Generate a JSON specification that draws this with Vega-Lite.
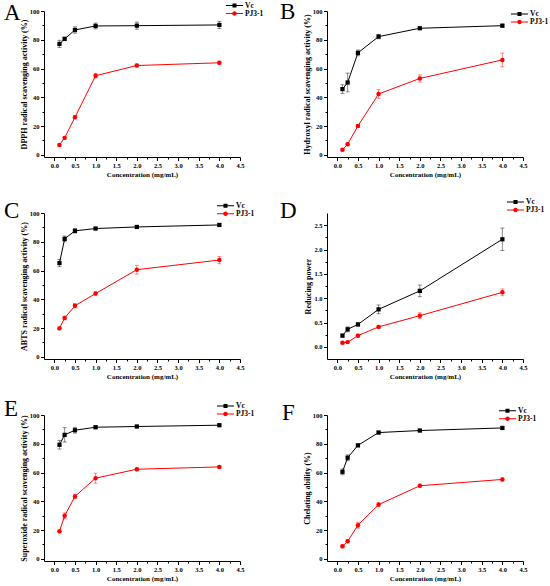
{
  "$schema": "https://vega.github.io/schema/vega-lite/v6.json",
  "background": "white",
  "padding": {"left": 4, "top": 1, "right": 0, "bottom": 0},
  "data": {
    "values": [
      {"p": "A", "s": "Vc", "x": 0.125, "v": 77.1, "e": 2.5},
      {"p": "A", "s": "Vc", "x": 0.25, "v": 80.6, "e": 1.2},
      {"p": "A", "s": "Vc", "x": 0.5, "v": 86.8, "e": 2.2},
      {"p": "A", "s": "Vc", "x": 1, "v": 89.6, "e": 2},
      {"p": "A", "s": "Vc", "x": 2, "v": 89.8, "e": 2.5},
      {"p": "A", "s": "Vc", "x": 4, "v": 90.3, "e": 2.5},
      {"p": "A", "s": "PJ3-1", "x": 0.125, "v": 6.9, "e": 1},
      {"p": "A", "s": "PJ3-1", "x": 0.25, "v": 11.8, "e": 1},
      {"p": "A", "s": "PJ3-1", "x": 0.5, "v": 26.1, "e": 1},
      {"p": "A", "s": "PJ3-1", "x": 1, "v": 55, "e": 1.5},
      {"p": "A", "s": "PJ3-1", "x": 2, "v": 62.1, "e": 1},
      {"p": "A", "s": "PJ3-1", "x": 4, "v": 64, "e": 1},
      {"p": "B", "s": "Vc", "x": 0.125, "v": 45.7, "e": 3},
      {"p": "B", "s": "Vc", "x": 0.25, "v": 50.3, "e": 6.5},
      {"p": "B", "s": "Vc", "x": 0.5, "v": 70.9, "e": 2},
      {"p": "B", "s": "Vc", "x": 1, "v": 82.2, "e": 1.5},
      {"p": "B", "s": "Vc", "x": 2, "v": 88, "e": 0.8},
      {"p": "B", "s": "Vc", "x": 4, "v": 89.8, "e": 1},
      {"p": "B", "s": "PJ3-1", "x": 0.125, "v": 3.5, "e": 0.8},
      {"p": "B", "s": "PJ3-1", "x": 0.25, "v": 7.4, "e": 1},
      {"p": "B", "s": "PJ3-1", "x": 0.5, "v": 20.1, "e": 1},
      {"p": "B", "s": "PJ3-1", "x": 1, "v": 42.3, "e": 3},
      {"p": "B", "s": "PJ3-1", "x": 2, "v": 53.1, "e": 2.5},
      {"p": "B", "s": "PJ3-1", "x": 4, "v": 66, "e": 4.8},
      {"p": "C", "s": "Vc", "x": 0.125, "v": 65.2, "e": 2.5},
      {"p": "C", "s": "Vc", "x": 0.25, "v": 82, "e": 2},
      {"p": "C", "s": "Vc", "x": 0.5, "v": 87.6, "e": 1.5},
      {"p": "C", "s": "Vc", "x": 1, "v": 89.2, "e": 0.8},
      {"p": "C", "s": "Vc", "x": 2, "v": 90.3, "e": 0.8},
      {"p": "C", "s": "Vc", "x": 4, "v": 91.7, "e": 0.8},
      {"p": "C", "s": "PJ3-1", "x": 0.125, "v": 19.8, "e": 1},
      {"p": "C", "s": "PJ3-1", "x": 0.25, "v": 27, "e": 1.2},
      {"p": "C", "s": "PJ3-1", "x": 0.5, "v": 35.5, "e": 1.5},
      {"p": "C", "s": "PJ3-1", "x": 1, "v": 44, "e": 1.2},
      {"p": "C", "s": "PJ3-1", "x": 2, "v": 60.6, "e": 3},
      {"p": "C", "s": "PJ3-1", "x": 4, "v": 67.3, "e": 2.5},
      {"p": "D", "s": "Vc", "x": 0.125, "v": 0.23, "e": 0.03},
      {"p": "D", "s": "Vc", "x": 0.25, "v": 0.36, "e": 0.05},
      {"p": "D", "s": "Vc", "x": 0.5, "v": 0.46, "e": 0.03},
      {"p": "D", "s": "Vc", "x": 1, "v": 0.77, "e": 0.09},
      {"p": "D", "s": "Vc", "x": 2, "v": 1.15, "e": 0.12},
      {"p": "D", "s": "Vc", "x": 4, "v": 2.21, "e": 0.23},
      {"p": "D", "s": "PJ3-1", "x": 0.125, "v": 0.083, "e": 0.02},
      {"p": "D", "s": "PJ3-1", "x": 0.25, "v": 0.097, "e": 0.02},
      {"p": "D", "s": "PJ3-1", "x": 0.5, "v": 0.23, "e": 0.03},
      {"p": "D", "s": "PJ3-1", "x": 1, "v": 0.41, "e": 0.03},
      {"p": "D", "s": "PJ3-1", "x": 2, "v": 0.64, "e": 0.06},
      {"p": "D", "s": "PJ3-1", "x": 4, "v": 1.12, "e": 0.07},
      {"p": "E", "s": "Vc", "x": 0.125, "v": 79.3, "e": 3},
      {"p": "E", "s": "Vc", "x": 0.25, "v": 86.2, "e": 5},
      {"p": "E", "s": "Vc", "x": 0.5, "v": 89.4, "e": 2},
      {"p": "E", "s": "Vc", "x": 1, "v": 91.5, "e": 1},
      {"p": "E", "s": "Vc", "x": 2, "v": 92, "e": 0.8},
      {"p": "E", "s": "Vc", "x": 4, "v": 92.9, "e": 0.8},
      {"p": "E", "s": "PJ3-1", "x": 0.125, "v": 19.1, "e": 1},
      {"p": "E", "s": "PJ3-1", "x": 0.25, "v": 29.9, "e": 2},
      {"p": "E", "s": "PJ3-1", "x": 0.5, "v": 43.4, "e": 1.5},
      {"p": "E", "s": "PJ3-1", "x": 1, "v": 56.1, "e": 3.5},
      {"p": "E", "s": "PJ3-1", "x": 2, "v": 62.3, "e": 1},
      {"p": "E", "s": "PJ3-1", "x": 4, "v": 63.9, "e": 1},
      {"p": "F", "s": "Vc", "x": 0.125, "v": 60.5, "e": 2},
      {"p": "F", "s": "Vc", "x": 0.25, "v": 70.3, "e": 2},
      {"p": "F", "s": "Vc", "x": 0.5, "v": 78.9, "e": 1},
      {"p": "F", "s": "Vc", "x": 1, "v": 87.8, "e": 1},
      {"p": "F", "s": "Vc", "x": 2, "v": 89.2, "e": 0.8},
      {"p": "F", "s": "Vc", "x": 4, "v": 91, "e": 1},
      {"p": "F", "s": "PJ3-1", "x": 0.125, "v": 8.7, "e": 1},
      {"p": "F", "s": "PJ3-1", "x": 0.25, "v": 12.2, "e": 1},
      {"p": "F", "s": "PJ3-1", "x": 0.5, "v": 23.4, "e": 2},
      {"p": "F", "s": "PJ3-1", "x": 1, "v": 37.7, "e": 1.5},
      {"p": "F", "s": "PJ3-1", "x": 2, "v": 50.8, "e": 1},
      {"p": "F", "s": "PJ3-1", "x": 4, "v": 55.2, "e": 1}
    ]
  },
  "columns": 2,
  "spacing": {"row": 56, "column": 87},
  "bounds": "flush",
  "resolve": {"scale": {"color": "independent"}},
  "concat": [
    {
      "width": 196, "height": 146,
      "title": {"text": "A", "dx": -40, "dy": 28.4},
      "transform": [{"filter": "datum.p === 'A'"}],
      "encoding": {
        "x": {"field": "x", "type": "quantitative", "scale": {"domain": [-0.25, 4.5], "nice": false, "zero": false},
          "axis": {"title": "Concentration (mg/mL)", "values": [0, 0.25, 0.5, 0.75, 1, 1.25, 1.5, 1.75, 2, 2.25, 2.5, 2.75, 3, 3.25, 3.5, 3.75, 4, 4.25, 4.5], "labelExpr": "datum.value % 0.5 === 0 ? format(datum.value, '.1f') : ''", "tickSize": {"condition": {"test": "datum.value % 0.5 === 0", "value": 3.5}, "value": 2}}},
        "y": {"field": "v", "type": "quantitative", "scale": {"domain": [-1.5, 100], "nice": false, "zero": false},
          "axis": {"title": "DPPH radical scavenging activity (%)", "values": [0, 10, 20, 30, 40, 50, 60, 70, 80, 90, 100], "labelExpr": "datum.value % 20 === 0 ? datum.label : ''", "tickSize": {"condition": {"test": "datum.value % 20 === 0", "value": 3.5}, "value": 2}}},
        "color": {"field": "s", "type": "nominal", "scale": {"domain": ["Vc", "PJ3-1"], "range": ["#000000", "#ff0000"]},
          "legend": {"title": null, "legendX": 186, "legendY": -10,
            "encode": {"symbols": {"update": {
              "shape": {"signal": "datum.value === 'Vc' ? 'M-1.9,-0.11H1.9V0.11H-1.9Z M-0.45,-0.45H0.45V0.45H-0.45Z' : 'M-1.9,-0.11H1.9V0.11H-1.9Z M0.5,0A0.5,0.5 0 1,1 -0.5,0A0.5,0.5 0 1,1 0.5,0Z'"},
              "fill": {"signal": "datum.value === 'Vc' ? '#000000' : '#ff0000'"},
              "opacity": {"value": 1}}}}}}
      },
      "layer": [
        {"mark": {"type": "errorbar", "ticks": {"size": 4}, "opacity": 0.45}, "encoding": {"yError": {"field": "e"}}},
        {"mark": {"type": "line", "strokeWidth": 1}},
        {"transform": [{"filter": "datum.s === 'Vc'"}], "mark": {"type": "point", "shape": "square", "filled": true, "size": 18, "opacity": 1}},
        {"transform": [{"filter": "datum.s === 'PJ3-1'"}], "mark": {"type": "point", "shape": "circle", "filled": true, "size": 20, "opacity": 1}}
      ]
    },
    {
      "width": 196, "height": 146,
      "title": {"text": "B", "dx": -47, "dy": 20.4},
      "transform": [{"filter": "datum.p === 'B'"}],
      "encoding": {
        "x": {"field": "x", "type": "quantitative", "scale": {"domain": [-0.25, 4.5], "nice": false, "zero": false},
          "axis": {"title": "Concentration (mg/mL)", "values": [0, 0.25, 0.5, 0.75, 1, 1.25, 1.5, 1.75, 2, 2.25, 2.5, 2.75, 3, 3.25, 3.5, 3.75, 4, 4.25, 4.5], "labelExpr": "datum.value % 0.5 === 0 ? format(datum.value, '.1f') : ''", "tickSize": {"condition": {"test": "datum.value % 0.5 === 0", "value": 3.5}, "value": 2}}},
        "y": {"field": "v", "type": "quantitative", "scale": {"domain": [-1.5, 100], "nice": false, "zero": false},
          "axis": {"title": "Hydroxyl radical scavenging activity (%)", "values": [0, 10, 20, 30, 40, 50, 60, 70, 80, 90, 100], "labelExpr": "datum.value % 20 === 0 ? datum.label : ''", "tickSize": {"condition": {"test": "datum.value % 20 === 0", "value": 3.5}, "value": 2}}},
        "color": {"field": "s", "type": "nominal", "scale": {"domain": ["Vc", "PJ3-1"], "range": ["#000000", "#ff0000"]},
          "legend": {"title": null, "legendX": 188, "legendY": -1.5,
            "encode": {"symbols": {"update": {
              "shape": {"signal": "datum.value === 'Vc' ? 'M-1.9,-0.11H1.9V0.11H-1.9Z M-0.45,-0.45H0.45V0.45H-0.45Z' : 'M-1.9,-0.11H1.9V0.11H-1.9Z M0.5,0A0.5,0.5 0 1,1 -0.5,0A0.5,0.5 0 1,1 0.5,0Z'"},
              "fill": {"signal": "datum.value === 'Vc' ? '#000000' : '#ff0000'"},
              "opacity": {"value": 1}}}}}}
      },
      "layer": [
        {"mark": {"type": "errorbar", "ticks": {"size": 4}, "opacity": 0.45}, "encoding": {"yError": {"field": "e"}}},
        {"mark": {"type": "line", "strokeWidth": 1}},
        {"transform": [{"filter": "datum.s === 'Vc'"}], "mark": {"type": "point", "shape": "square", "filled": true, "size": 18, "opacity": 1}},
        {"transform": [{"filter": "datum.s === 'PJ3-1'"}], "mark": {"type": "point", "shape": "circle", "filled": true, "size": 20, "opacity": 1}}
      ]
    },
    {
      "width": 196, "height": 146,
      "title": {"text": "C", "dx": -40, "dy": 25.4},
      "transform": [{"filter": "datum.p === 'C'"}],
      "encoding": {
        "x": {"field": "x", "type": "quantitative", "scale": {"domain": [-0.25, 4.5], "nice": false, "zero": false},
          "axis": {"title": "Concentration (mg/mL)", "values": [0, 0.25, 0.5, 0.75, 1, 1.25, 1.5, 1.75, 2, 2.25, 2.5, 2.75, 3, 3.25, 3.5, 3.75, 4, 4.25, 4.5], "labelExpr": "datum.value % 0.5 === 0 ? format(datum.value, '.1f') : ''", "tickSize": {"condition": {"test": "datum.value % 0.5 === 0", "value": 3.5}, "value": 2}}},
        "y": {"field": "v", "type": "quantitative", "scale": {"domain": [-1.5, 100], "nice": false, "zero": false},
          "axis": {"title": "ABTS radical scavenging activity (%)", "values": [0, 10, 20, 30, 40, 50, 60, 70, 80, 90, 100], "labelExpr": "datum.value % 20 === 0 ? datum.label : ''", "tickSize": {"condition": {"test": "datum.value % 20 === 0", "value": 3.5}, "value": 2}}},
        "color": {"field": "s", "type": "nominal", "scale": {"domain": ["Vc", "PJ3-1"], "range": ["#000000", "#ff0000"]},
          "legend": {"title": null, "legendX": 177, "legendY": -11.8,
            "encode": {"symbols": {"update": {
              "shape": {"signal": "datum.value === 'Vc' ? 'M-1.9,-0.11H1.9V0.11H-1.9Z M-0.45,-0.45H0.45V0.45H-0.45Z' : 'M-1.9,-0.11H1.9V0.11H-1.9Z M0.5,0A0.5,0.5 0 1,1 -0.5,0A0.5,0.5 0 1,1 0.5,0Z'"},
              "fill": {"signal": "datum.value === 'Vc' ? '#000000' : '#ff0000'"},
              "opacity": {"value": 1}}}}}}
      },
      "layer": [
        {"mark": {"type": "errorbar", "ticks": {"size": 4}, "opacity": 0.45}, "encoding": {"yError": {"field": "e"}}},
        {"mark": {"type": "line", "strokeWidth": 1}},
        {"transform": [{"filter": "datum.s === 'Vc'"}], "mark": {"type": "point", "shape": "square", "filled": true, "size": 18, "opacity": 1}},
        {"transform": [{"filter": "datum.s === 'PJ3-1'"}], "mark": {"type": "point", "shape": "circle", "filled": true, "size": 20, "opacity": 1}}
      ]
    },
    {
      "width": 196, "height": 146,
      "title": {"text": "D", "dx": -47, "dy": 29.4},
      "transform": [{"filter": "datum.p === 'D'"}],
      "encoding": {
        "x": {"field": "x", "type": "quantitative", "scale": {"domain": [-0.25, 4.5], "nice": false, "zero": false},
          "axis": {"title": "Concentration (mg/mL)", "values": [0, 0.25, 0.5, 0.75, 1, 1.25, 1.5, 1.75, 2, 2.25, 2.5, 2.75, 3, 3.25, 3.5, 3.75, 4, 4.25, 4.5], "labelExpr": "datum.value % 0.5 === 0 ? format(datum.value, '.1f') : ''", "tickSize": {"condition": {"test": "datum.value % 0.5 === 0", "value": 3.5}, "value": 2}}},
        "y": {"field": "v", "type": "quantitative", "scale": {"domain": [-0.25, 2.75], "nice": false, "zero": false},
          "axis": {"title": "Reducing power", "values": [0, 0.25, 0.5, 0.75, 1, 1.25, 1.5, 1.75, 2, 2.25, 2.5], "labelExpr": "datum.value % 0.5 === 0 ? format(datum.value, '.1f') : ''", "tickSize": {"condition": {"test": "datum.value % 0.5 === 0", "value": 3.5}, "value": 2}}},
        "color": {"field": "s", "type": "nominal", "scale": {"domain": ["Vc", "PJ3-1"], "range": ["#000000", "#ff0000"]},
          "legend": {"title": null, "legendX": 184, "legendY": -15.5,
            "encode": {"symbols": {"update": {
              "shape": {"signal": "datum.value === 'Vc' ? 'M-1.9,-0.11H1.9V0.11H-1.9Z M-0.45,-0.45H0.45V0.45H-0.45Z' : 'M-1.9,-0.11H1.9V0.11H-1.9Z M0.5,0A0.5,0.5 0 1,1 -0.5,0A0.5,0.5 0 1,1 0.5,0Z'"},
              "fill": {"signal": "datum.value === 'Vc' ? '#000000' : '#ff0000'"},
              "opacity": {"value": 1}}}}}}
      },
      "layer": [
        {"mark": {"type": "errorbar", "ticks": {"size": 4}, "opacity": 0.45}, "encoding": {"yError": {"field": "e"}}},
        {"mark": {"type": "line", "strokeWidth": 1}},
        {"transform": [{"filter": "datum.s === 'Vc'"}], "mark": {"type": "point", "shape": "square", "filled": true, "size": 18, "opacity": 1}},
        {"transform": [{"filter": "datum.s === 'PJ3-1'"}], "mark": {"type": "point", "shape": "circle", "filled": true, "size": 20, "opacity": 1}}
      ]
    },
    {
      "width": 196, "height": 146,
      "title": {"text": "E", "dx": -40, "dy": 23.6},
      "transform": [{"filter": "datum.p === 'E'"}],
      "encoding": {
        "x": {"field": "x", "type": "quantitative", "scale": {"domain": [-0.25, 4.5], "nice": false, "zero": false},
          "axis": {"title": "Concentration (mg/mL)", "values": [0, 0.25, 0.5, 0.75, 1, 1.25, 1.5, 1.75, 2, 2.25, 2.5, 2.75, 3, 3.25, 3.5, 3.75, 4, 4.25, 4.5], "labelExpr": "datum.value % 0.5 === 0 ? format(datum.value, '.1f') : ''", "tickSize": {"condition": {"test": "datum.value % 0.5 === 0", "value": 3.5}, "value": 2}}},
        "y": {"field": "v", "type": "quantitative", "scale": {"domain": [-1.5, 100], "nice": false, "zero": false},
          "axis": {"title": "Superoxide radical scavenging activity (%)", "values": [0, 10, 20, 30, 40, 50, 60, 70, 80, 90, 100], "labelExpr": "datum.value % 20 === 0 ? datum.label : ''", "tickSize": {"condition": {"test": "datum.value % 20 === 0", "value": 3.5}, "value": 2}}},
        "color": {"field": "s", "type": "nominal", "scale": {"domain": ["Vc", "PJ3-1"], "range": ["#000000", "#ff0000"]},
          "legend": {"title": null, "legendX": 177, "legendY": -13.5,
            "encode": {"symbols": {"update": {
              "shape": {"signal": "datum.value === 'Vc' ? 'M-1.9,-0.11H1.9V0.11H-1.9Z M-0.45,-0.45H0.45V0.45H-0.45Z' : 'M-1.9,-0.11H1.9V0.11H-1.9Z M0.5,0A0.5,0.5 0 1,1 -0.5,0A0.5,0.5 0 1,1 0.5,0Z'"},
              "fill": {"signal": "datum.value === 'Vc' ? '#000000' : '#ff0000'"},
              "opacity": {"value": 1}}}}}}
      },
      "layer": [
        {"mark": {"type": "errorbar", "ticks": {"size": 4}, "opacity": 0.45}, "encoding": {"yError": {"field": "e"}}},
        {"mark": {"type": "line", "strokeWidth": 1}},
        {"transform": [{"filter": "datum.s === 'Vc'"}], "mark": {"type": "point", "shape": "square", "filled": true, "size": 18, "opacity": 1}},
        {"transform": [{"filter": "datum.s === 'PJ3-1'"}], "mark": {"type": "point", "shape": "circle", "filled": true, "size": 20, "opacity": 1}}
      ]
    },
    {
      "width": 196, "height": 146,
      "title": {"text": "F", "dx": -45, "dy": 22.6},
      "transform": [{"filter": "datum.p === 'F'"}],
      "encoding": {
        "x": {"field": "x", "type": "quantitative", "scale": {"domain": [-0.25, 4.5], "nice": false, "zero": false},
          "axis": {"title": "Concentration (mg/mL)", "values": [0, 0.25, 0.5, 0.75, 1, 1.25, 1.5, 1.75, 2, 2.25, 2.5, 2.75, 3, 3.25, 3.5, 3.75, 4, 4.25, 4.5], "labelExpr": "datum.value % 0.5 === 0 ? format(datum.value, '.1f') : ''", "tickSize": {"condition": {"test": "datum.value % 0.5 === 0", "value": 3.5}, "value": 2}}},
        "y": {"field": "v", "type": "quantitative", "scale": {"domain": [-1.5, 100], "nice": false, "zero": false},
          "axis": {"title": "Chelating ability (%)", "values": [0, 10, 20, 30, 40, 50, 60, 70, 80, 90, 100], "labelExpr": "datum.value % 20 === 0 ? datum.label : ''", "tickSize": {"condition": {"test": "datum.value % 20 === 0", "value": 3.5}, "value": 2}}},
        "color": {"field": "s", "type": "nominal", "scale": {"domain": ["Vc", "PJ3-1"], "range": ["#000000", "#ff0000"]},
          "legend": {"title": null, "legendX": 176, "legendY": -8.8,
            "encode": {"symbols": {"update": {
              "shape": {"signal": "datum.value === 'Vc' ? 'M-1.9,-0.11H1.9V0.11H-1.9Z M-0.45,-0.45H0.45V0.45H-0.45Z' : 'M-1.9,-0.11H1.9V0.11H-1.9Z M0.5,0A0.5,0.5 0 1,1 -0.5,0A0.5,0.5 0 1,1 0.5,0Z'"},
              "fill": {"signal": "datum.value === 'Vc' ? '#000000' : '#ff0000'"},
              "opacity": {"value": 1}}}}}}
      },
      "layer": [
        {"mark": {"type": "errorbar", "ticks": {"size": 4}, "opacity": 0.45}, "encoding": {"yError": {"field": "e"}}},
        {"mark": {"type": "line", "strokeWidth": 1}},
        {"transform": [{"filter": "datum.s === 'Vc'"}], "mark": {"type": "point", "shape": "square", "filled": true, "size": 18, "opacity": 1}},
        {"transform": [{"filter": "datum.s === 'PJ3-1'"}], "mark": {"type": "point", "shape": "circle", "filled": true, "size": 20, "opacity": 1}}
      ]
    }
  ],
  "config": {
    "view": {"stroke": null},
    "title": {"font": "Liberation Serif", "fontSize": 23, "fontWeight": "normal", "color": "#000000", "anchor": "start", "frame": "group", "baseline": "alphabetic", "offset": 0},
    "axis": {
      "grid": false,
      "domainColor": "#000000", "domainWidth": 1,
      "tickColor": "#000000", "tickWidth": 1,
      "labelFont": "Liberation Serif", "labelFontSize": 6.5, "labelFontWeight": "bold", "labelColor": "#000000",
      "labelOverlap": false, "labelFlush": false, "labelPadding": 1.5,
      "titleFont": "Liberation Serif", "titleFontWeight": "bold", "titleColor": "#000000"
    },
    "axisX": {"titleFontSize": 7, "titlePadding": 2},
    "axisY": {"titleFontSize": 8, "titlePadding": 1},
    "legend": {
      "orient": "none", "padding": 0, "rowPadding": 0,
      "labelFont": "Liberation Serif", "labelFontSize": 7.5, "labelFontWeight": "bold", "labelColor": "#000000",
      "labelOffset": 6, "symbolSize": 81, "symbolStrokeWidth": 0
    }
  }
}
